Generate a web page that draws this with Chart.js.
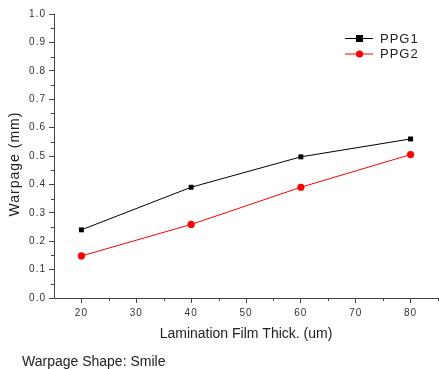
<!DOCTYPE html>
<html><head><meta charset="utf-8">
<script src="https://cdn.jsdelivr.net/npm/chart.js@4/dist/chart.umd.min.js"></script>
<style>html,body{margin:0;padding:0;background:#fff}#wrap{width:439px;height:369px}</style>
</head><body><div id="wrap"><canvas id="c" width="439" height="369"></canvas></div>
<script>
const thickness = [20, 40, 60, 80];
const ppg1 = [0.24, 0.39, 0.497, 0.56];
const ppg2 = [0.148, 0.259, 0.39, 0.505];
const seriesNames = ['PPG1', 'PPG2'];
const xTicks = [20, 30, 40, 50, 60, 70, 80];
const xMinor = [25, 35, 45, 55, 65, 75, 85];
const yTicks = [0.0, 0.1, 0.2, 0.3, 0.4, 0.5, 0.6, 0.7, 0.8, 0.9, 1.0];
const yMinor = [0.05, 0.15, 0.25, 0.35, 0.45, 0.55, 0.65, 0.75, 0.85, 0.95];
const xTitle = 'Lamination Film Thick. (um)';
const yTitle = 'Warpage (mm)';
const caption = 'Warpage Shape: Smile';

const FONT = '"Liberation Sans", Arial, sans-serif';
const AX = '#444';

const extras = {
  id: 'extras',
  beforeDraw(chart) {
    chart.ctx.letterSpacing = '1px';
  },
  afterDraw(chart) {
    const ctx = chart.ctx;
    const xs = chart.scales.x, ys = chart.scales.y;
    ctx.save();
    ctx.letterSpacing = '0px';
    // minor ticks
    ctx.strokeStyle = AX; ctx.lineWidth = 1;
    ctx.beginPath();
    xMinor.forEach(v => { const p = Math.round(xs.getPixelForValue(v)) + 0.5; ctx.moveTo(p, ys.bottom); ctx.lineTo(p, ys.bottom + 3); });
    yMinor.forEach(v => { const p = Math.round(ys.getPixelForValue(v)) + 0.5; ctx.moveTo(xs.left, p); ctx.lineTo(xs.left - 3, p); });
    ctx.stroke();
    // axis titles
    ctx.fillStyle = '#222';
    ctx.font = '14px ' + FONT;
    ctx.textAlign = 'center'; ctx.textBaseline = 'middle';
    ctx.fillText(xTitle, 246, 334);
    ctx.save();
    ctx.translate(15, 164);
    ctx.rotate(-Math.PI / 2);
    ctx.letterSpacing = '1px';
    ctx.fillText(yTitle, 0, 0);
    ctx.restore();
    ctx.textAlign = 'left';
    ctx.fillText(caption, 22, 362);
    // legend
    ctx.font = '13px ' + FONT;
    ctx.letterSpacing = '1px';
    chart.data.datasets.forEach((ds, i) => {
      const y = 38 + i * 15.5;
      ctx.strokeStyle = ds.borderColor; ctx.lineWidth = 1;
      ctx.beginPath(); ctx.moveTo(345, y + 0.5); ctx.lineTo(373, y + 0.5); ctx.stroke();
      ctx.fillStyle = ds.pointBackgroundColor;
      if (ds.pointStyle === 'rect') { ctx.fillRect(356, y - 3, 7, 7); }
      else { ctx.beginPath(); ctx.arc(359.5, y + 0.5, 3.6, 0, Math.PI * 2); ctx.fill(); }
      ctx.fillStyle = '#222';
      ctx.textBaseline = 'middle';
      ctx.fillText(ds.label, 380, y + 1);
    });
    ctx.restore();
  }
};

new Chart(document.getElementById('c'), {
  type: 'line',
  data: {
    datasets: [
      { label: seriesNames[0], data: thickness.map((x, i) => ({ x, y: ppg1[i] })),
        borderColor: '#000', backgroundColor: '#000', pointBackgroundColor: '#000', pointBorderColor: '#000',
        borderWidth: 1, pointStyle: 'rect', pointRadius: 3.5, pointBorderWidth: 0, tension: 0 },
      { label: seriesNames[1], data: thickness.map((x, i) => ({ x, y: ppg2[i] })),
        borderColor: '#ff0000', backgroundColor: '#ff0000', pointBackgroundColor: '#ff0000', pointBorderColor: '#ff0000',
        borderWidth: 1, pointStyle: 'circle', pointRadius: 3.6, pointBorderWidth: 0, tension: 0 }
    ]
  },
  plugins: [extras],
  options: {
    responsive: false, animation: false, devicePixelRatio: 1,
    layout: { autoPadding: false, padding: { top: 14, right: 1, left: 0, bottom: 0 } },
    plugins: { legend: { display: false }, tooltip: { enabled: false } },
    scales: {
      x: {
        type: 'linear', min: 15, max: 85,
        afterBuildTicks: s => { s.ticks = xTicks.map(v => ({ value: v })); },
        afterFit: s => { s.height = 71; s.paddingLeft = 0; s.paddingRight = 0; },
        border: { color: AX, width: 1 },
        grid: { drawOnChartArea: false, drawTicks: true, tickLength: 5, color: AX, tickColor: AX },
        ticks: { color: '#333', font: { family: FONT, size: 10 }, padding: 4, maxRotation: 0 }
      },
      y: {
        type: 'linear', min: 0, max: 1,
        afterBuildTicks: s => { s.ticks = yTicks.map(v => ({ value: v })); },
        afterFit: s => { s.width = 54; s.paddingLeft = 0; s.paddingRight = 0; },
        border: { color: AX, width: 1 },
        grid: { drawOnChartArea: false, drawTicks: true, tickLength: 5, color: AX, tickColor: AX },
        ticks: { color: '#333', font: { family: FONT, size: 10 }, padding: 3, callback: v => v.toFixed(1) }
      }
    }
  }
});
</script></body></html>
